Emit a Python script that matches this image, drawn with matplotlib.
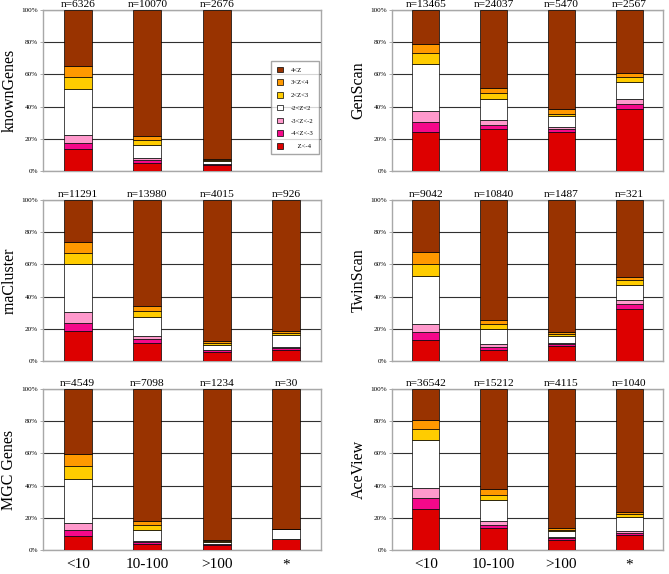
import numpy as np
import matplotlib
matplotlib.use("Agg")
import matplotlib.pyplot as plt
from matplotlib.patches import Patch

plt.rcParams['font.family'] = ['Liberation Serif', 'DejaVu Serif']

# Categories and Z-score bins (bottom to top of each stack)
categories = ['<10', '10-100', '>100', '*']
bins = ['Z<-4', '-4<Z<-3', '-3<Z<-2', '-2<Z<2', '2<Z<3', '3<Z<4', '4<Z']
colors = ['#dd0000', '#f5088a', '#ff99cc', '#ffffff', '#ffcc00', '#ff9900', '#993300']

# Per panel: bar counts and stacked percentages (one row per category)
known_genes_n = [6326, 10070, 2676]
known_genes = [[13.6, 3.8, 5.1, 28.7, 7.1, 7.2, 34.5],
               [5.0, 1.6, 1.3, 8.2, 2.9, 2.7, 78.3],
               [3.7, 0.4, 0.3, 1.9, 0.4, 0.6, 92.7]]

genscan_n = [13465, 24037, 5470, 2567]
genscan = [[24.2, 6.0, 7.0, 29.1, 6.8, 5.8, 21.1],
           [26.0, 2.7, 2.9, 13.4, 3.3, 3.4, 48.3],
           [24.2, 1.6, 1.5, 7.0, 1.4, 2.7, 61.6],
           [38.4, 3.3, 2.9, 10.6, 2.9, 2.6, 39.3]]

rna_cluster_n = [11291, 13980, 4015, 926]
rna_cluster = [[18.4, 5.4, 6.8, 29.9, 6.8, 6.8, 25.9],
               [11.4, 2.3, 1.8, 11.8, 3.5, 3.2, 66.0],
               [5.8, 0.8, 0.4, 3.1, 1.1, 1.2, 87.6],
               [6.6, 1.5, 0.8, 7.2, 1.5, 1.2, 81.2]]

twinscan_n = [9042, 10840, 1487, 321]
twinscan = [[13.1, 4.9, 5.0, 29.9, 7.3, 7.4, 32.4],
            [7.1, 1.8, 1.5, 9.5, 3.1, 2.7, 74.3],
            [9.3, 1.1, 0.8, 4.4, 1.0, 1.4, 82.0],
            [32.4, 2.7, 2.7, 9.5, 2.9, 1.9, 47.9]]

mgc_n = [4549, 7098, 1234, 30]
mgc = [[8.5, 3.9, 4.2, 27.5, 7.9, 7.8, 40.2],
       [3.7, 1.3, 0.8, 6.8, 2.9, 2.3, 82.2],
       [3.1, 0.4, 0.2, 1.5, 0.4, 0.6, 93.8],
       [6.67, 0.0, 0.0, 6.67, 0.0, 0.0, 86.66]]

aceview_n = [36542, 15212, 4115, 1040]
aceview = [[25.5, 6.6, 6.4, 30.0, 6.7, 5.3, 19.5],
           [13.7, 2.0, 2.5, 12.6, 3.4, 3.7, 62.1],
           [6.4, 0.8, 0.7, 3.7, 1.0, 1.3, 86.1],
           [9.3, 1.5, 1.0, 8.9, 1.5, 1.2, 76.6]]

W, H = 669, 574
fig = plt.figure(figsize=(W / 100, H / 100), dpi=100)


def px_axes(x0, x1, y0, y1):
    return fig.add_axes([x0 / W, 1 - y1 / H, (x1 - x0) / W, (y1 - y0) / H])


def draw_panel(ax, name, counts, data, show_x):
    data = np.array(data)
    x = np.arange(len(counts))
    bottom = np.zeros(len(counts))
    for j in range(len(bins)):
        ax.bar(x, data[:, j], 0.4, bottom=bottom, color=colors[j],
               edgecolor='black', linewidth=0.5, zorder=3)
        bottom += data[:, j]
    for i, n in enumerate(counts):
        ax.annotate(f'n={n}', (x[i], 100), xytext=(0, 1), textcoords='offset points',
                    ha='center', va='bottom', fontsize=8.2)
    ax.set_xlim(-0.5, 3.5)
    ax.set_ylim(0, 100)
    ax.set_yticks(range(0, 101, 20))
    ax.set_yticklabels([f'{v}%' for v in range(0, 101, 20)], fontsize=5.2)
    ax.yaxis.grid(True, color='#303030', linewidth=0.8, zorder=0)
    ax.tick_params(axis='y', length=2, width=0.6, color='#a0a0a0', pad=1.5)
    ax.set_xticks(range(4))
    if show_x:
        ax.set_xticklabels(categories, fontsize=11)
        ax.tick_params(axis='x', length=0, pad=6)
    else:
        ax.set_xticklabels([])
        ax.tick_params(axis='x', length=0)
    for s in ax.spines.values():
        s.set_color('#a8a8a8')
        s.set_linewidth(1.0)
    ax.set_ylabel(name, fontsize=11.5, labelpad=3)


rows = [(10, 171), (200, 361), (389, 550)]
left = (43, 321)
right = (392, 663)

panels = [
    (left, rows[0], 'knownGenes', known_genes_n, known_genes),
    (right, rows[0], 'GenScan', genscan_n, genscan),
    (left, rows[1], 'rnaCluster', rna_cluster_n, rna_cluster),
    (right, rows[1], 'TwinScan', twinscan_n, twinscan),
    (left, rows[2], 'MGC Genes', mgc_n, mgc),
    (right, rows[2], 'AceView', aceview_n, aceview),
]

for (cx, ry, name, counts, data) in panels:
    ax = px_axes(cx[0], cx[1], ry[0], ry[1])
    draw_panel(ax, name, counts, data, ry == rows[2])

# legend in the empty slot of the first panel
handles = [Patch(facecolor=c, edgecolor='black', linewidth=0.5) for c in colors[::-1]]
labels = ['4<Z', '3<Z<4', '2<Z<3', '-2<Z<2', '-3<Z<-2', '-4<Z<-3', '    Z<-4']
leg = fig.legend(handles, labels, loc='upper left',
                 bbox_to_anchor=(268 / W, 1 - 58 / H), fontsize=4.8,
                 frameon=True, fancybox=False, handlelength=0.9, handleheight=0.9,
                 handletextpad=1.2, labelspacing=1.0, borderpad=0.8)
leg.get_frame().set_edgecolor('#909090')
leg.get_frame().set_linewidth(1.0)

fig.savefig('out.png', dpi=100)
